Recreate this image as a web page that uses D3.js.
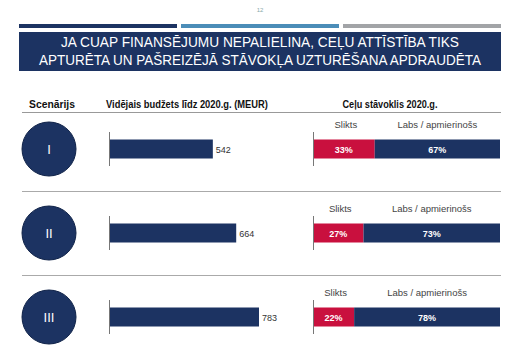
<!DOCTYPE html>
<html>
<head>
<meta charset="utf-8">
<script src="https://cdn.jsdelivr.net/npm/d3@7"></script>
<style>
  body { margin: 0; background: #fff; }
  svg { display: block; }
  text { font-family: "Liberation Sans", Arial, sans-serif; }
</style>
</head>
<body>
<svg width="520" height="360"></svg>
<script>
const NAVY = "#1c3362";
const RED = "#c9103e";
const LIGHT_BLUE = "#4b8db8";
const GREY = "#a2a4a7";

// data
const scenarios = ["I", "II", "III"];
const budget = [542, 664, 783];
const badShare = [33, 27, 22];
const goodShare = [67, 73, 78];
const titleLines = ["JA CUAP FINANSĒJUMU NEPALIELINA, CEĻU ATTĪSTĪBA TIKS",
                    "APTURĒTA UN PAŠREIZĒJĀ STĀVOKĻA UZTURĒŠANA APDRAUDĒTA"];
const headers = ["Scenārijs", "Vidējais budžets līdz 2020.g. (MEUR)", "Ceļu stāvoklis 2020.g."];
const segLabels = ["Slikts", "Labs / apmierinošs"];

var svg = d3.select("svg");

// top strips + title box
[NAVY, LIGHT_BLUE, GREY].forEach(function (c, i) {
    svg.append("rect").attr("x", 19 + i * 162).attr("y", 24)
        .attr("width", 158).attr("height", 4).attr("fill", c);
});
svg.append("text").attr("x", 260).attr("y", 12).attr("text-anchor", "middle")
    .attr("font-size", 6).attr("fill", "#8aa").text("12");

svg.append("rect").attr("x", 19).attr("y", 32).attr("width", 482).attr("height", 39).attr("fill", NAVY);
svg.selectAll(".title").data(titleLines).enter().append("text")
    .attr("class", "title")
    .attr("x", 260).attr("y", (d, i) => 47 + i * 18)
    .attr("text-anchor", "middle").attr("fill", "#fff").attr("font-size", 14)
    .attr("textLength", (d, i) => i == 0 ? 398 : 442)
    .attr("lengthAdjust", "spacingAndGlyphs")
    .text(d => d);

// column headers
const headerX = [52, 187, 390];
const headerW = [46, 162, 95];
svg.selectAll(".hdr").data(headers).enter().append("text")
    .attr("class", "hdr")
    .attr("x", (d, i) => headerX[i]).attr("y", 108)
    .attr("text-anchor", "middle").attr("font-size", 10).attr("font-weight", "bold")
    .attr("textLength", (d, i) => headerW[i]).attr("lengthAdjust", "spacingAndGlyphs")
    .attr("fill", "#111").text(d => d);
svg.append("line").attr("x1", 22).attr("x2", 501).attr("y1", 112.5).attr("y2", 112.5)
    .attr("stroke", "#999").attr("stroke-width", 1);

// scales
var y = d3.scalePoint().domain(scenarios).range([149, 317]);
var xb = d3.scaleLinear().domain([0, 783]).range([109, 259]);
var xs = d3.scaleLinear().domain([0, 100]).range([313, 500]);
const barH = 19;

// separators between rows
for (let i = 0; i < scenarios.length - 1; i++) {
    let yy = Math.round((y(scenarios[i]) + y(scenarios[i + 1])) / 2) + 0.5;
    svg.append("line").attr("x1", 22).attr("x2", 501).attr("y1", yy).attr("y2", yy)
        .attr("stroke", "#aaa").attr("stroke-width", 1);
}

var rows = svg.selectAll(".row").data(scenarios).enter().append("g")
    .attr("class", "row")
    .attr("transform", d => `translate(0, ${y(d)})`);

// scenario circles
rows.append("circle").attr("cx", 49).attr("cy", 0).attr("r", 27)
    .attr("fill", NAVY).attr("stroke", "#0f2248").attr("stroke-width", 1);
rows.append("text").attr("x", 49).attr("y", 4.5).attr("text-anchor", "middle")
    .attr("fill", "#fff").attr("font-size", 13).text(d => d);

// budget bars
rows.append("line").attr("x1", xb(0) + 0.5).attr("x2", xb(0) + 0.5)
    .attr("y1", -17).attr("y2", 17).attr("stroke", "#777");
rows.append("rect").attr("x", xb(0) + 1).attr("y", -barH / 2)
    .attr("width", (d, i) => xb(budget[i]) - xb(0) - 1).attr("height", barH)
    .attr("fill", NAVY);
rows.append("text").attr("x", (d, i) => xb(budget[i]) + 3).attr("y", 3.5)
    .attr("font-size", 9).attr("fill", "#333").text((d, i) => budget[i]);

// road condition stacked bars
rows.append("line").attr("x1", xs(0) + 0.5).attr("x2", xs(0) + 0.5)
    .attr("y1", -17).attr("y2", 17).attr("stroke", "#777");
rows.append("rect").attr("x", xs(0) + 1).attr("y", -barH / 2)
    .attr("width", (d, i) => xs(badShare[i]) - xs(0) - 1).attr("height", barH)
    .attr("fill", RED);
rows.append("rect").attr("x", (d, i) => xs(badShare[i])).attr("y", -barH / 2)
    .attr("width", (d, i) => xs(badShare[i] + goodShare[i]) - xs(badShare[i])).attr("height", barH)
    .attr("fill", NAVY);
rows.append("text").attr("x", (d, i) => (xs(0) + xs(badShare[i])) / 2).attr("y", 3.5)
    .attr("text-anchor", "middle").attr("font-size", 9).attr("font-weight", "bold")
    .attr("fill", "#fff").text((d, i) => badShare[i] + "%");
rows.append("text").attr("x", (d, i) => (xs(badShare[i]) + xs(100)) / 2).attr("y", 3.5)
    .attr("text-anchor", "middle").attr("font-size", 9).attr("font-weight", "bold")
    .attr("fill", "#fff").text((d, i) => goodShare[i] + "%");

// segment names above
rows.append("text").attr("x", (d, i) => (xs(0) + xs(badShare[i])) / 2 + 2).attr("y", -21)
    .attr("text-anchor", "middle").attr("font-size", 9.5).attr("fill", "#444").text(segLabels[0]);
rows.append("text").attr("x", (d, i) => (xs(badShare[i]) + xs(100)) / 2).attr("y", -21)
    .attr("text-anchor", "middle").attr("font-size", 9.5).attr("fill", "#444").text(segLabels[1]);
</script>
</body>
</html>
